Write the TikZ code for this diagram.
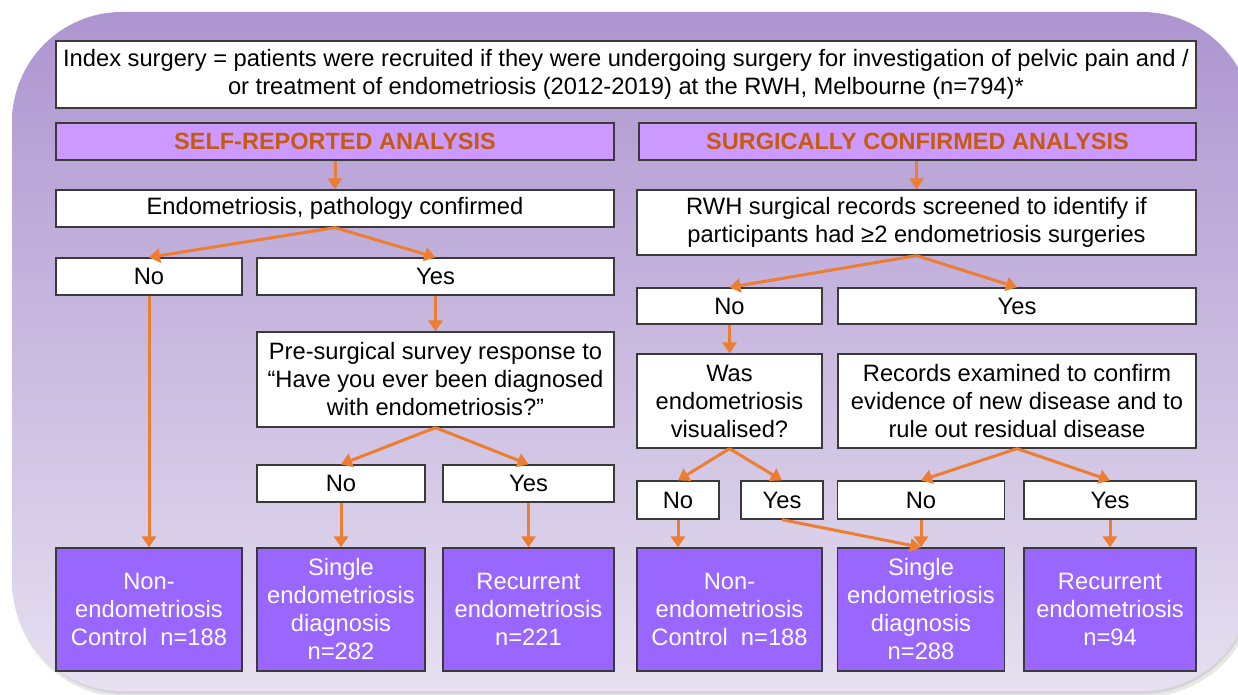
\documentclass[tikz,border=0pt]{standalone}
\usepackage{fontspec}
\setmainfont{Liberation Sans}
\usetikzlibrary{arrows.meta}
\definecolor{bgtop}{HTML}{AD95D0}
\definecolor{bgbot}{HTML}{E6E0F0}
\definecolor{hdrfill}{HTML}{CC99FF}
\definecolor{hdrtext}{HTML}{C55A11}
\definecolor{arrc}{HTML}{ED7D31}
\definecolor{resfill}{HTML}{9966FF}
\definecolor{bordc}{HTML}{3A3A3A}
\tikzset{
  base/.style={draw=bordc, line width=1.3pt, inner sep=0pt, align=center,
    font=\fontsize{23.7}{28}\selectfont},
  wbox/.style={base, fill=white, text=black},
  hdr/.style={base, fill=hdrfill, text=hdrtext, font=\fontsize{23.5}{28}\selectfont\bfseries},
  res/.style={base, fill=resfill, text=white},
  arr/.style={draw=arrc, line width=3pt, -{Triangle[length=11pt,width=14pt]}},
}
\begin{document}
\begin{tikzpicture}[x=1pt,y=-1pt]
\useasboundingbox (0,0) rectangle (1238,695);
% shadow and background
\fill[black!50, opacity=0.18, rounded corners=112pt] (13,14) rectangle (1256,697);
\fill[black!50, opacity=0.18, rounded corners=112pt] (13,13) rectangle (1254,694);
\shade[top color=bgtop, bottom color=bgbot, rounded corners=110pt] (12,12) rectangle (1252,691);

% top box
\node[wbox, minimum width=1140pt, minimum height=67pt] (top) at (626,74.5)
  {Index surgery = patients were recruited if they were undergoing surgery for investigation of pelvic pain and /\\
   or treatment of endometriosis (2012-2019) at the RWH, Melbourne (n=794)*};

% headers
\node[hdr, minimum width=558pt, minimum height=37pt] (hl) at (335,141.5) {SELF-REPORTED ANALYSIS};
\node[hdr, minimum width=557pt, minimum height=37pt] (hr) at (917.5,141.5) {SURGICALLY CONFIRMED ANALYSIS};

% left column
\node[wbox, minimum width=558pt, minimum height=37pt] (ep) at (335,208.5) {Endometriosis, pathology confirmed};
\node[wbox, minimum width=186pt, minimum height=37pt] (lno) at (149,276.5) {No};
\node[wbox, minimum width=357pt, minimum height=37pt] (lyes) at (435.5,276.5) {Yes};
\node[wbox, minimum width=357pt, minimum height=95pt] (pre) at (435.5,379.5)
  {Pre-surgical survey response to\\ “Have you ever been diagnosed\\ with endometriosis?”};
\node[wbox, minimum width=168pt, minimum height=37pt] (lno2) at (341,483.5) {No};
\node[wbox, minimum width=171pt, minimum height=37pt] (lyes2) at (528.5,483.5) {Yes};
\node[res, minimum width=186pt, minimum height=123pt] (lctrl) at (149,609.5)
  {Non-\\endometriosis\\Control\ \ n=188};
\node[res, minimum width=168pt, minimum height=123pt] (lsingle) at (341,609.5)
  {Single\\endometriosis\\diagnosis\\n=282};
\node[res, minimum width=171pt, minimum height=123pt] (lrec) at (528.5,609.5)
  {Recurrent\\endometriosis\\n=221};

% right column
\node[wbox, minimum width=559pt, minimum height=65pt] (rwh) at (916.5,222.5)
  {RWH surgical records screened to identify if\\ participants had ≥2 endometriosis surgeries};
\node[wbox, minimum width=185pt, minimum height=36pt] (rno) at (729.5,306) {No};
\node[wbox, minimum width=358pt, minimum height=36pt] (ryes) at (1017,306) {Yes};
\node[wbox, minimum width=185pt, minimum height=94pt] (was) at (729.5,401)
  {Was\\ endometriosis\\ visualised?};
\node[wbox, minimum width=358pt, minimum height=94pt] (recx) at (1017,401)
  {Records examined to confirm\\ evidence of new disease and to\\ rule out residual disease};
\node[wbox, minimum width=82pt, minimum height=38pt] (rno2) at (678,500) {No};
\node[wbox, minimum width=82pt, minimum height=38pt] (ryes2) at (782,500) {Yes};
\node[wbox, minimum width=167pt, minimum height=38pt] (rno3) at (921,500) {No};
\node[wbox, minimum width=172pt, minimum height=38pt] (ryes3) at (1110,500) {Yes};
\node[res, minimum width=185pt, minimum height=123pt] (rctrl) at (729.5,609.5)
  {Non-\\endometriosis\\Control\ \ n=188};
\node[res, minimum width=167pt, minimum height=123pt] (rsingle) at (921,609.5)
  {Single\\endometriosis\\diagnosis\\n=288};
\node[res, minimum width=172pt, minimum height=123pt] (rrec) at (1110,609.5)
  {Recurrent\\endometriosis\\n=94};

% arrows left
\draw[arr] (hl.south) -- (ep.north);
\draw[arr] (ep.south) -- (lno.north);
\draw[arr] (ep.south) -- (lyes.north);
\draw[arr] (lyes.south) -- (pre.north);
\draw[arr] (pre.south) -- (lno2.north);
\draw[arr] (pre.south) -- (lyes2.north);
\draw[arr] (lno.south) -- (lctrl.north);
\draw[arr] (lno2.south) -- (lsingle.north);
\draw[arr] (lyes2.south) -- (lrec.north);

% arrows right
\draw[arr] (hr.south -| rwh.north) -- (rwh.north);
\draw[arr] (rwh.south) -- (rno.north);
\draw[arr] (rwh.south) -- (ryes.north);
\draw[arr] (rno.south) -- (was.north);
\draw[arr] (was.south) -- (rno2.north);
\draw[arr] (was.south) -- (ryes2.north);
\draw[arr] (recx.south) -- (rno3.north);
\draw[arr] (recx.south) -- (ryes3.north);
\draw[arr] (rno2.south) -- (rno2.south |- rctrl.north);
\draw[arr] (ryes2.south) -- (rsingle.north);
\draw[arr] (rno3.south) -- (rsingle.north);
\draw[arr] (ryes3.south) -- (rrec.north);
\end{tikzpicture}
\end{document}
